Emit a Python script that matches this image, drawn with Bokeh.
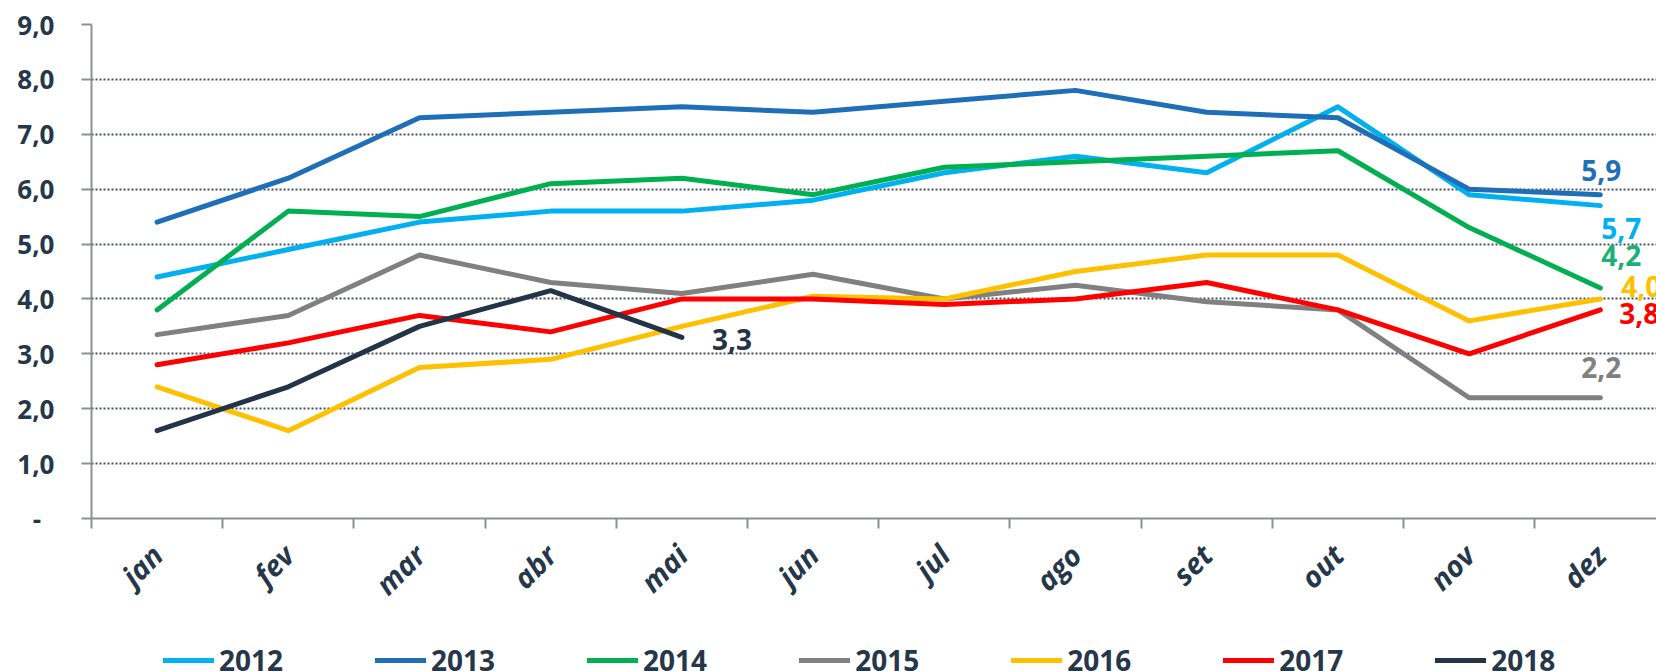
import math
from bokeh.plotting import figure
from bokeh.layouts import column
from bokeh.models import (ColumnDataSource, FixedTicker, Range1d, Legend, LegendItem)
from bokeh.core.properties import value
from bokeh.embed import file_html
from bokeh.resources import INLINE

# ---------------- data ----------------
months = ["jan", "fev", "mar", "abr", "mai", "jun", "jul", "ago", "set", "out", "nov", "dez"]
years = ["2012", "2013", "2014", "2015", "2016", "2017", "2018"]
v2012 = [4.4, 4.9, 5.4, 5.6, 5.6, 5.8, 6.3, 6.6, 6.3, 7.5, 5.9, 5.7]
v2013 = [5.4, 6.2, 7.3, 7.4, 7.5, 7.4, 7.6, 7.8, 7.4, 7.3, 6.0, 5.9]
v2014 = [3.8, 5.6, 5.5, 6.1, 6.2, 5.9, 6.4, 6.5, 6.6, 6.7, 5.3, 4.2]
v2015 = [3.35, 3.7, 4.8, 4.3, 4.1, 4.45, 4.0, 4.25, 3.95, 3.8, 2.2, 2.2]
v2016 = [2.4, 1.6, 2.75, 2.9, 3.5, 4.05, 4.0, 4.5, 4.8, 4.8, 3.6, 4.0]
v2017 = [2.8, 3.2, 3.7, 3.4, 4.0, 4.0, 3.9, 4.0, 4.3, 3.8, 3.0, 3.8]
v2018 = [1.6, 2.4, 3.5, 4.15, 3.3]
series = [v2012, v2013, v2014, v2015, v2016, v2017, v2018]
y_ticks = [0, 1, 2, 3, 4, 5, 6, 7, 8, 9]
y_tick_labels = ["-\u00a0\u00a0", "1,0", "2,0", "3,0", "4,0", "5,0", "6,0", "7,0", "8,0", "9,0"]

# ---------------- styles ----------------
colors = ["#00B0F0", "#1F6FB8", "#00B050", "#808080", "#FFC000", "#FF0000", "#243447"]
label_colors = ["#00B0F0", "#1F6FB8", "#1DAF78", "#808080", "#FFC000", "#FF0000", "#243447"]
label_offsets = [(1, 23), (-19, -24), (1, -32), (-19, -30), (21, -12), (19, 4), (30, 2)]
TXT = "#26374A"
FONT = "Open Sans"
AXIS_C = "#8C8F93"

p = figure(width=1656, height=620, output_backend="svg", toolbar_location=None,
           x_range=Range1d(-0.5, 11.428), y_range=Range1d(0, 9),
           min_border_left=91, min_border_right=0, min_border_top=24, min_border_bottom=102)
p.outline_line_color = None
p.background_fill_color = "white"
p.border_fill_color = "white"

# y axis
p.yaxis.ticker = FixedTicker(ticks=y_ticks, minor_ticks=[])
p.yaxis.major_label_overrides = {t: l for t, l in zip(y_ticks, y_tick_labels)}
p.yaxis.major_label_text_font = FONT
p.yaxis.major_label_text_font_style = "bold"
p.yaxis.major_label_text_font_size = "26px"
p.yaxis.major_label_text_color = TXT
p.yaxis.major_label_standoff = 27
p.yaxis.axis_line_color = AXIS_C
p.yaxis.axis_line_width = 2
p.yaxis.major_tick_line_color = AXIS_C
p.yaxis.major_tick_line_width = 2
p.yaxis.major_tick_out = 10
p.yaxis.major_tick_in = 0
p.yaxis.minor_tick_line_color = None

# x axis
xt = list(range(len(months)))
p.xaxis.ticker = FixedTicker(ticks=xt, minor_ticks=[i - 0.5 for i in range(len(months) + 1)])
p.xaxis.major_label_overrides = {i: m for i, m in zip(xt, months)}
p.xaxis.major_label_orientation = math.pi / 4
p.xaxis.major_label_text_font = FONT
p.xaxis.major_label_text_font_style = "bold italic"
p.xaxis.major_label_text_font_size = "29px"
p.xaxis.major_label_text_color = TXT
p.xaxis.major_label_standoff = 21
p.xaxis.axis_line_color = AXIS_C
p.xaxis.axis_line_width = 2
p.xaxis.major_tick_line_color = None
p.xaxis.minor_tick_line_color = AXIS_C
p.xaxis.minor_tick_line_width = 2
p.xaxis.minor_tick_out = 10
p.xaxis.minor_tick_in = 0

p.xgrid.visible = False
p.ygrid.grid_line_color = "#46505F"
p.ygrid.grid_line_width = 2
p.ygrid.grid_line_dash = "2 2"

for yr, vals, c in zip(years, series, colors):
    src = ColumnDataSource(dict(x=list(range(len(vals))), y=vals))
    p.line("x", "y", source=src, line_color=c, line_width=5,
           line_cap="round", line_join="round")

# end labels
for yr, vals, c, off in zip(years, series, label_colors, label_offsets):
    last = len(vals) - 1
    txt = ("%.1f" % vals[last]).replace(".", ",")
    src = ColumnDataSource(dict(x=[last], y=[vals[last]], t=[txt]))
    p.text("x", "y", text="t", source=src, text_color=c, text_font=value(FONT),
           text_font_style="bold", text_font_size="28px", text_align="left",
           text_baseline="middle", x_offset=off[0], y_offset=off[1])

# ---------------- legend strip (series drawn out of view, legend only) ----------------
lg = figure(width=1656, height=51, output_backend="svg", toolbar_location=None,
            x_range=Range1d(0, 1), y_range=Range1d(100, 101),
            min_border_left=0, min_border_right=0, min_border_top=0, min_border_bottom=0)
lg.axis.visible = False
lg.grid.visible = False
lg.outline_line_color = None
lg.background_fill_color = "white"
lg.border_fill_color = "white"
leg_renderers = []
for yr, vals, c in zip(years, series, colors):
    src = ColumnDataSource(dict(x=list(range(len(vals))), y=vals))
    r = lg.line("x", "y", source=src, line_color=c, line_width=5, line_cap="round")
    leg_renderers.append(r)

legend = Legend(items=[LegendItem(label=yr, renderers=[r]) for yr, r in zip(years, leg_renderers)],
                orientation="horizontal", location=(72, -8),
                glyph_width=51, glyph_height=20, label_standoff=5, spacing=92,
                padding=0, margin=0, border_line_color=None, background_fill_alpha=0,
                label_text_font=FONT, label_text_font_style="bold",
                label_text_font_size="28px", label_text_color=TXT)
lg.add_layout(legend, "center")

layout = column(p, lg, spacing=0)
open("out.html", "w").write(file_html(layout, INLINE))
